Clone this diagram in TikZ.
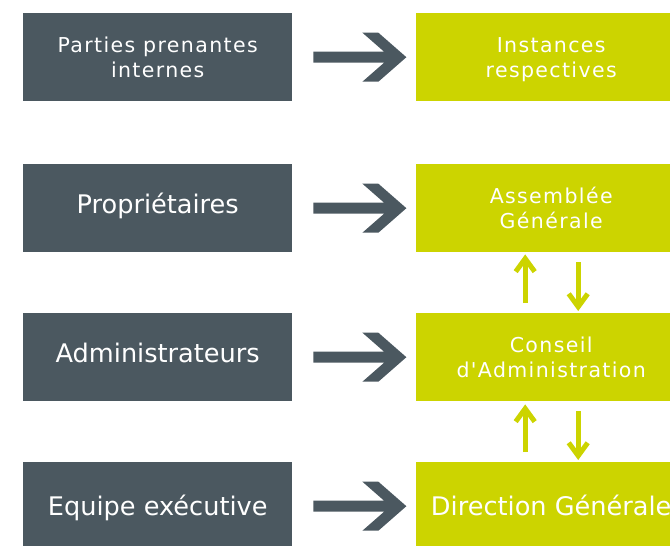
\documentclass[tikz,border=0pt]{standalone}
\usepackage{fontspec}
\setmainfont{DejaVu Sans}
\newfontfamily\spacedfont[LetterSpace=6.7]{DejaVu Sans}
\usetikzlibrary{arrows.meta,calc}
\definecolor{slate}{HTML}{4B5860}
\definecolor{lime}{HTML}{CCD400}
\tikzset{
  box/.style={minimum width=269pt, minimum height=88pt, inner sep=0pt, text=white,
    align=center, anchor=north west, draw=none},
  leftbox/.style={box, fill=slate},
  rightbox/.style={box, fill=lime, minimum width=270pt},
  smalltxt/.style={font=\spacedfont\fontsize{20.5}{25}\selectfont},
  bigtxt/.style={font=\fontsize{25.6}{30}\selectfont, text height=16pt, text depth=5pt},
  lowtxt/.style={font=\fontsize{25.6}{30}\selectfont, text height=20pt, text depth=2pt},
  fat/.style={fill=slate, draw=none, to path={
    ($(\tikztostart)+(21,-5.5)$) -- ++(70.7,0) -- ++(-21.7,-19) -- ++(16,0)
    -- ++(28,24.5) -- ++(-28,24.5) -- ++(-16,0) -- ++(21.7,-19) -- ++(-70.7,0) -- cycle}},
  thin/.style={draw=lime, line width=5pt,
    -{Straight Barb[length=13pt,width=19pt,line width=5pt]}}
}
\begin{document}
\begin{tikzpicture}[x=1pt,y=-1pt]
\useasboundingbox (0,0) rectangle (670,546);
\clip (0,0) rectangle (670,546);
\node[leftbox,smalltxt] (l1) at (23,13) {Parties prenantes\\internes};
\node[leftbox,bigtxt] (l2) at (23,164) {Propriétaires};
\node[leftbox,bigtxt] (l3) at (23,313) {Administrateurs};
\node[leftbox,lowtxt] (l4) at (23,462) {Equipe exécutive};
\node[rightbox,smalltxt] (r1) at (416,13) {Instances\\\smash{respectives}};
\node[rightbox,smalltxt] (r2) at (416,164) {Assemblée\\Générale};
\node[rightbox,smalltxt] (r3) at (416,313) {Conseil\\d'Administration};
\node[rightbox,lowtxt] (r4) at (416,462) {Direction Générale};
\path[fat] (l1.east) to (r1.west);
\path[fat] (l2.east) to (r2.west);
\path[fat] (l3.east) to (r3.west);
\path[fat] (l4.east) to (r4.west);
\draw[thin] ([xshift=-26pt,yshift=10pt]r3.north) -- ([xshift=-26pt,yshift=-2pt]r2.south);
\draw[thin] ([xshift=27pt,yshift=-10pt]r2.south) -- ([xshift=27pt,yshift=2pt]r3.north);
\draw[thin] ([xshift=-26pt,yshift=10pt]r4.north) -- ([xshift=-26pt,yshift=-3pt]r3.south);
\draw[thin] ([xshift=27pt,yshift=-10pt]r3.south) -- ([xshift=27pt,yshift=2pt]r4.north);
\end{tikzpicture}
\end{document}
